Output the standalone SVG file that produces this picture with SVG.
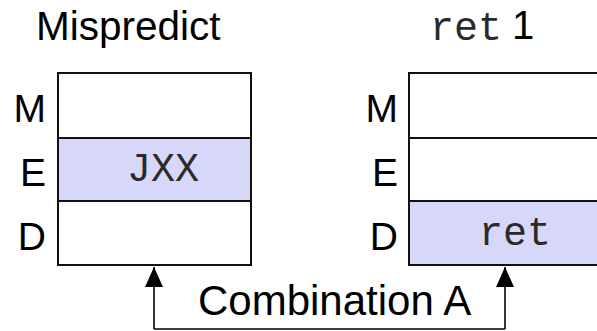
<svg xmlns="http://www.w3.org/2000/svg" width="597" height="331" viewBox="0 0 597 331">
<defs>
<style>
.sans{font-family:"Liberation Sans",Arial,sans-serif;fill:#000}
.lbl{font-family:"Liberation Sans",Arial,sans-serif;fill:#000;font-size:39px;text-anchor:end}
.mono{font-family:"Liberation Mono","Courier New",monospace;fill:#2a2a2a}
.cell{stroke:#111;stroke-width:2;fill:#fff}
.hl{fill:#d7d7fa}
.conn{stroke:#000;stroke-width:1.6;fill:none}
</style>
<marker id="ah" viewBox="0 0 20 18" refX="20" refY="9" markerWidth="20" markerHeight="18" markerUnits="userSpaceOnUse" orient="auto">
<path d="M0,0 L20,9 L0,18 Z" fill="#000"/>
</marker>
</defs>
<rect width="597" height="331" fill="#fff"/>
<g id="title-mispredict"><text class="sans" x="36" y="40" font-size="40.5">Mispredict</text></g>
<g id="title-ret"><text class="mono" x="430" y="40" font-size="40">ret</text><text class="sans" x="512" y="39" font-size="40">1</text></g>
<g id="pipe-left">
<rect class="cell" x="58" y="73" width="193" height="65"/>
<rect class="cell hl" x="58" y="138" width="193" height="63"/>
<rect class="cell" x="58" y="201" width="193" height="64"/>
<text class="mono" x="127" y="181" font-size="40">JXX</text>
<text class="lbl" x="46" y="122">M</text>
<text class="lbl" x="46" y="186">E</text>
<text class="lbl" x="46" y="250">D</text>
</g>
<g id="pipe-right">
<rect class="cell" x="409" y="73" width="193" height="65"/>
<rect class="cell" x="409" y="138" width="193" height="63"/>
<rect class="cell hl" x="409" y="201" width="193" height="64"/>
<text class="mono" x="479" y="245" font-size="40">ret</text>
<text class="lbl" x="398" y="122">M</text>
<text class="lbl" x="398" y="186">E</text>
<text class="lbl" x="398" y="250">D</text>
</g>
<g id="connectors">
<path class="conn" d="M154,329 L505,329"/>
<path class="conn" d="M154,329 L154,267" marker-end="url(#ah)"/>
<path class="conn" d="M505,329 L505,267" marker-end="url(#ah)"/>
</g>
<g id="label-combination"><text class="sans" x="198" y="315" font-size="42">Combination A</text></g>
</svg>
